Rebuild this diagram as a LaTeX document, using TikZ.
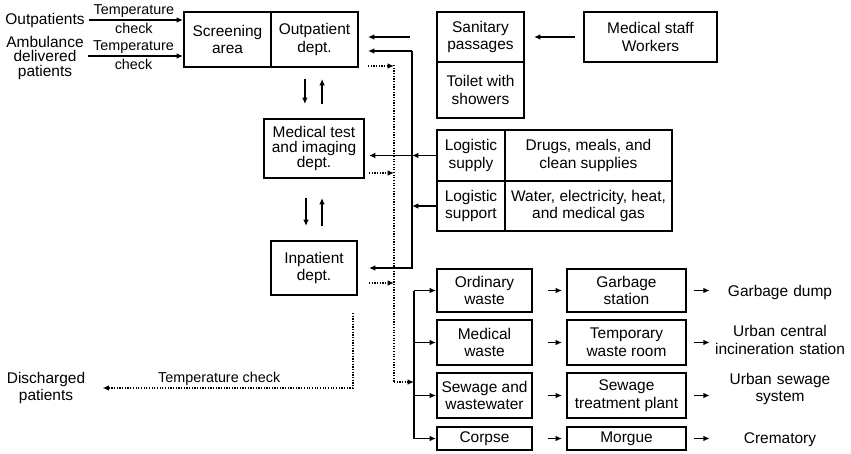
\documentclass[tikz,border=0pt]{standalone}
\usepackage{fontspec}
\setmainfont{Liberation Sans}
\usetikzlibrary{arrows.meta}

\begin{document}
\begin{tikzpicture}[x=0.025cm, y=-0.025cm]
    % Define styles
    \tikzset{
        unitbox/.style={rectangle, draw, line width=1.4pt, inner sep=0pt, align=center, font=\fontsize{11}{12.5}\selectfont},
        plain/.style={inner sep=0pt, align=center, font=\fontsize{11}{12.5}\selectfont},
        dest/.style={plain, text width=3.5cm},
        lbl/.style={font=\fontsize{10.2}{11}\selectfont, inner sep=1.5pt},
        wire/.style={line width=1pt},
        arrow/.style={wire, -{Latex[length=4.5pt,width=4pt]}},
        dotline/.style={line width=1.1pt, dash pattern=on 0.9pt off 1pt},
        dotarrow/.style={dotline, -{Latex[length=4.5pt,width=4pt]}}
    }
    \useasboundingbox (0,0) rectangle (851,454);

    % Nodes
    \node[plain] (outp) at (45,20) {Outpatients};
    \node[plain, font=\fontsize{11}{10.3}\selectfont] (amb) at (45,58) {Ambulance\\delivered\\patients};
    \node[plain] (disch) at (46,388) {Discharged\\patients};

    \node[unitbox, minimum width=2.175cm, minimum height=1.375cm] (screen) at (227.5,39.5) {Screening\\area};
    \node[unitbox, minimum width=2.175cm, minimum height=1.375cm] (opd) at (314.5,39.5) {Outpatient\\dept.};
    \node[unitbox, minimum width=2.5cm, minimum height=1.475cm, font=\fontsize{11}{10.7}\selectfont] (medtest) at (314,148.5) {Medical test\\and imaging\\dept.};
    \node[unitbox, minimum width=2.15cm, minimum height=1.35cm] (inpat) at (314,268) {Inpatient\\dept.};

    \node[unitbox, minimum width=2.175cm, minimum height=1.25cm] (sanit) at (480.5,37) {Sanitary\\passages};
    \node[unitbox, minimum width=2.175cm, minimum height=1.4cm] (toilet) at (480.5,90) {Toilet with\\showers};
    \node[unitbox, minimum width=3.325cm, minimum height=1.25cm] (staff) at (650.5,37) {Medical staff\\Workers};

    \node[unitbox, minimum width=1.7cm, minimum height=1.275cm] (lsupply) at (471,155.5) {Logistic\\supply};
    \node[unitbox, minimum width=4.175cm, minimum height=1.275cm] (drugs) at (588.5,155.5) {Drugs, meals, and\\clean supplies};
    \node[unitbox, minimum width=1.7cm, minimum height=1.25cm] (lsupport) at (471,206) {Logistic\\support};
    \node[unitbox, minimum width=4.175cm, minimum height=1.25cm] (water) at (588.5,206) {Water, electricity, heat,\\and medical gas};

    \node[unitbox, minimum width=2.375cm, minimum height=1.075cm] (ordw) at (484.5,290.5) {Ordinary\\waste};
    \node[unitbox, minimum width=2.375cm, minimum height=1.125cm] (medw) at (484.5,342.5) {Medical\\waste};
    \node[unitbox, minimum width=2.375cm, minimum height=1.125cm] (sewg) at (484.5,395.5) {Sewage and\\wastewater};
    \node[unitbox, minimum width=2.375cm, minimum height=0.575cm] (corpse) at (484.5,438.5) {Corpse};

    \node[unitbox, minimum width=2.975cm, minimum height=1.075cm] (garb) at (626.5,290.5) {Garbage\\station};
    \node[unitbox, minimum width=2.975cm, minimum height=1.125cm] (temproom) at (626.5,342.5) {Temporary\\waste room};
    \node[unitbox, minimum width=2.975cm, minimum height=1.125cm] (plant) at (626.5,395.5) {Sewage\\treatment plant};
    \node[unitbox, minimum width=2.975cm, minimum height=0.575cm] (morgue) at (626.5,438.5) {Morgue};

    \node[dest] (dump) at (780,292) {Garbage dump};
    \node[dest] (incin) at (780,340) {Urban central\\incineration station};
    \node[dest] (urbsew) at (780,389) {Urban sewage\\system};
    \node[dest] (crem) at (780,440) {Crematory};

    \coordinate (btop) at (412,51);
    \coordinate (dtop) at (394,65);
    \coordinate (dbot) at (394,382);
    \coordinate (wtop) at (414,290.5);
    \coordinate (wbot) at (414,438.5);
    \coordinate (dstart) at (353,313);

    % Arrows
    \draw[arrow, shorten <=0.1cm] (outp.east) -- (outp.east -| screen.west)
        node[midway, above, lbl] {Temperature} node[midway, below, lbl] {check};
    \draw[arrow, shorten <=0.1cm] ([yshift=0.05cm]amb.east) -- ([yshift=0.05cm]amb.east -| screen.west)
        node[midway, above, lbl] {Temperature} node[midway, below, lbl] {check};

    \draw[arrow, shorten <=0.2cm, shorten >=0.225cm] (staff.west) -- (sanit.east);
    \draw[arrow, shorten <=0.65cm, shorten >=0.225cm] (sanit.west) -- (sanit.west -| opd.east);

    \draw[arrow, shorten >=0.225cm] (btop) -- (btop -| opd.east);
    \draw[arrow, shorten >=0.275cm] (btop) -- (btop |- inpat.east) -- (inpat.east);
    \draw[arrow] (lsupply.west) -- (lsupply.west -| btop);
    \draw[arrow, shorten >=0.1cm] (lsupply.west -| btop) -- (lsupply.west -| medtest.east);
    \draw[arrow] (lsupport.west) -- (lsupport.west -| btop);

    \draw[arrow, shorten <=0.275cm, shorten >=0.35cm] ([xshift=-0.24cm]opd.south) -- ([xshift=-0.24cm]opd.south |- medtest.north);
    \draw[arrow, shorten <=0.35cm, shorten >=0.275cm] ([xshift=0.19cm]opd.south |- medtest.north) -- ([xshift=0.19cm]opd.south);
    \draw[arrow, shorten <=0.475cm, shorten >=0.35cm] ([xshift=-0.2cm]medtest.south) -- ([xshift=-0.2cm]medtest.south |- inpat.north);
    \draw[arrow, shorten <=0.35cm, shorten >=0.475cm] ([xshift=0.2cm]medtest.south |- inpat.north) -- ([xshift=0.2cm]medtest.south);

    % dotted flows
    \draw[dotarrow, shorten <=0.225cm] ([yshift=0.05cm]opd.south east) -- ([yshift=0.05cm]opd.south east -| dtop);
    \draw[dotarrow, shorten <=0.1cm] ([yshift=0.15cm]medtest.south east) -- ([yshift=0.15cm]medtest.south east -| dtop);
    \draw[dotarrow, shorten <=0.275cm] ([yshift=0.325cm]inpat.south east) -- ([yshift=0.325cm]inpat.south east -| dtop);
    \draw[dotline] (dtop) -- (dbot);
    \draw[dotarrow] (dbot) -- (dbot -| wtop);
    \draw[dotarrow, shorten >=0.43cm] (dstart) |- (disch.east) node[pos=0.75, above, lbl] {Temperature check};

    % waste
    \draw[wire] (wtop) -- (wbot);
    \draw[arrow] (wtop) -- (ordw.west);
    \draw[arrow] (medw.west -| wtop) -- (medw.west);
    \draw[arrow] (sewg.west -| wtop) -- (sewg.west);
    \draw[arrow] (wbot) -- (corpse.west);
    \draw[arrow, shorten <=0.375cm, shorten >=0.1cm] (ordw.east) -- (garb.west);
    \draw[arrow, shorten <=0.375cm, shorten >=0.1cm] (medw.east) -- (temproom.west);
    \draw[arrow, shorten <=0.375cm, shorten >=0.1cm] (sewg.east) -- (plant.west);
    \draw[arrow, shorten <=0.375cm, shorten >=0.1cm] (corpse.east) -- (morgue.west);
    \draw[arrow, shorten <=0.175cm] (garb.east) -- (garb.east -| dump.west);
    \draw[arrow, shorten <=0.175cm] (temproom.east) -- (temproom.east -| incin.west);
    \draw[arrow, shorten <=0.175cm] (plant.east) -- (plant.east -| urbsew.west);
    \draw[arrow, shorten <=0.175cm] (morgue.east) -- (morgue.east -| crem.west);
\end{tikzpicture}
\end{document}
